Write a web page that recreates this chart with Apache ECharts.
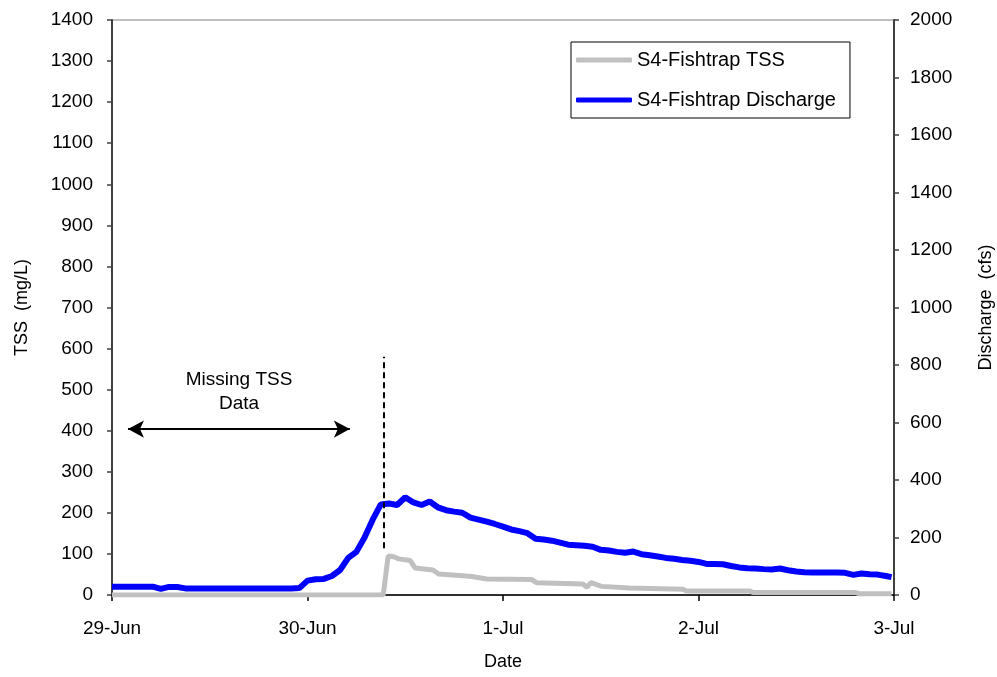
<!DOCTYPE html>
<html>
<head>
<meta charset="utf-8">
<script src="https://cdn.jsdelivr.net/npm/echarts@6/dist/echarts.min.js"></script>
<style>html,body{margin:0;padding:0;background:#fff}#c{width:997px;height:677px}</style>
</head>
<body>
<div id="c"></div>
<script>
// Tick labels for the date axis (hours since 29-Jun 00:00)
const dateLabels = ['29-Jun', '30-Jun', '1-Jul', '2-Jul', '3-Jul'];

// Discharge (cfs), hours since 29-Jun 00:00
const dischargeHours = [0,1,2,3,4,5,6,7,8,9,10,11,12,13,14,15,16,17,18,19,20,21,22,23,24,25,26,27,28,29,30,31,32,33,34,35,36,37,38,39,40,41,42,43,44,45,46,47,48,49,50,51,52,53,54,55,56,57,58,59,60,61,62,63,64,65,66,67,68,69,70,71,72,73,74,75,76,77,78,79,80,81,82,83,84,85,86,87,88,89,90,91,92,93,94,95,95.7];
const dischargeValues = [29,29,29,29,29,29,21,28,28,23,23,23,23,23,23,23,23,23,23,23,23,23,23,24,50,55,56,66,87,129,150,200,262,315,318,313,340,322,313,325,305,295,290,286,269,262,255,247,238,228,222,215,196,193,189,182,175,173,171,168,157,155,150,147,151,142,138,134,129,126,122,119,115,108,108,107,101,96,93,92,90,89,92,86,82,79,78,78,78,78,77,70,75,72,71,66,62];

// TSS (mg/L), hours since 29-Jun 00:00
const tssHours = [0,33.3,33.9,34.6,35.2,36.6,37.2,39.4,40.1,43.5,44.2,46,51.5,52.1,57.8,58.3,58.8,60.1,63.5,70.1,70.5,78.3,78.7,91.3,91.8,95.7];
const tssValues = [0,0,95,93,88,84,66,61,51,46,45,39,38,30,27,19,30,21,17,14,10,10,6,6,3,3];

// Annotations (data units)
const eventHour = 33.3;
const eventTssRange = [114, 580];
const missingRangeHours = [1.96, 29.2];
const missingArrowTss = 404;
const missingLabelPos = [15.6, 494];
const missingLabelText = 'Missing TSS\nData';

const FONT = '"Liberation Sans", Arial, sans-serif';

const chart = echarts.init(document.getElementById('c'), null, {renderer: 'canvas'});
chart.setOption({
  animation: false,
  backgroundColor: '#ffffff',
  textStyle: {fontFamily: FONT, color: '#000'},
  grid: {left: 112, right: 103, top: 20, bottom: 82, show: true, borderColor: '#808080', borderWidth: 1,
    backgroundColor: 'transparent', containLabel: false, outerBoundsMode: 'none'},
  legend: {
    orient: 'vertical', left: 571, top: 42,
    itemWidth: 56, itemHeight: 5, itemGap: 20,
    icon: 'roundRect',
    borderColor: '#000', borderWidth: 1, borderRadius: 0,
    padding: [8, 14, 8, 5],
    textStyle: {fontFamily: FONT, fontSize: 20, color: '#000'},
    data: ['S4-Fishtrap TSS', 'S4-Fishtrap Discharge']
  },
  xAxis: {
    type: 'value', min: 0, max: 96, interval: 24,
    name: 'Date', nameLocation: 'middle', nameGap: 58,
    nameTextStyle: {fontFamily: FONT, fontSize: 18, color: '#000'},
    axisLine: {show: true, lineStyle: {color: '#000', width: 1.5}},
    axisTick: {show: true, inside: false, length: 6, lineStyle: {color: '#000', width: 1.5}},
    axisLabel: {fontFamily: FONT, fontSize: 19, color: '#000', margin: 24,
      formatter: v => dateLabels[Math.round(v / 24)] || ''},
    splitLine: {show: false}
  },
  yAxis: [
    {
      type: 'value', min: 0, max: 1400, interval: 100, position: 'left',
      name: 'TSS  (mg/L)', nameLocation: 'middle', nameGap: 81, nameRotate: 90,
      nameTextStyle: {fontFamily: FONT, fontSize: 18, color: '#000'},
      axisLine: {show: true, lineStyle: {color: '#404040', width: 2}},
      axisTick: {show: true, inside: false, length: 5, lineStyle: {color: '#404040', width: 1.5}},
      axisLabel: {fontFamily: FONT, fontSize: 19, color: '#000', margin: 19, formatter: v => String(v)},
      splitLine: {show: false}
    },
    {
      type: 'value', min: 0, max: 2000, interval: 200, position: 'right',
      name: 'Discharge  (cfs)', nameLocation: 'middle', nameGap: 83, nameRotate: 90,
      nameTextStyle: {fontFamily: FONT, fontSize: 18, color: '#000'},
      axisLine: {show: true, lineStyle: {color: '#404040', width: 2}},
      axisTick: {show: true, inside: false, length: 5, lineStyle: {color: '#404040', width: 1.5}},
      axisLabel: {fontFamily: FONT, fontSize: 19, color: '#000', margin: 16, formatter: v => String(v)},
      splitLine: {show: false}
    }
  ],
  series: [
    {
      name: 'S4-Fishtrap TSS', type: 'line', yAxisIndex: 0,
      showSymbol: false, symbol: 'none',
      lineStyle: {color: '#C0C0C0', width: 5},
      itemStyle: {color: '#C0C0C0'},
      data: tssHours.map((h, i) => [h, tssValues[i]]),
      z: 2,
      markLine: {
        silent: true, animation: false,
        data: [
          [
            {coord: [eventHour, eventTssRange[0]], symbol: 'none', lineStyle: {color: '#000', width: 2, type: [6, 4]}},
            {coord: [eventHour, eventTssRange[1]], symbol: 'none'}
          ],
          [
            {coord: [missingRangeHours[0], missingArrowTss], symbol: 'arrow', symbolSize: [13, 16], lineStyle: {color: '#000', width: 2, type: 'solid'}},
            {coord: [missingRangeHours[1], missingArrowTss], symbol: 'arrow', symbolSize: [13, 16]}
          ]
        ],
        label: {show: false},
        lineStyle: {color: '#000'}
      },
      markPoint: {
        silent: true, animation: false,
        symbol: 'circle', symbolSize: 0,
        data: [{coord: missingLabelPos, value: 0}],
        label: {show: true, position: 'inside', formatter: missingLabelText,
          fontFamily: FONT, fontSize: 19, lineHeight: 24, color: '#000', align: 'center'}
      }
    },
    {
      name: 'S4-Fishtrap Discharge', type: 'line', yAxisIndex: 1,
      showSymbol: false, symbol: 'none',
      lineStyle: {color: '#0000FF', width: 6},
      itemStyle: {color: '#0000FF'},
      data: dischargeHours.map((h, i) => [h, dischargeValues[i]]),
      z: 3
    }
  ]
});
</script>
</body>
</html>
